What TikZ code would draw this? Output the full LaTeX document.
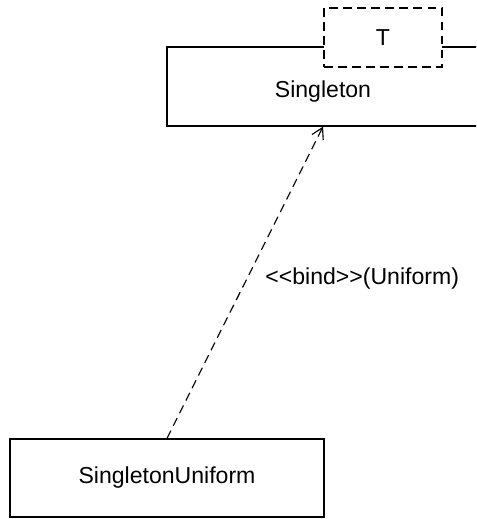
\documentclass[tikz,border=0pt]{standalone}
\usepackage{fontspec}
\setmainfont{Liberation Sans}
\usetikzlibrary{arrows.meta}

\begin{document}
\begin{tikzpicture}[
        x=0.025cm, y=-0.025cm,
        every node/.style={font=\fontsize{16.4}{20}\selectfont},
        cls/.style={
          draw=black, line width=0.85pt, fill=white,
          inner sep=0pt, align=center,
        },
        tparam/.style={
          draw=black, line width=0.85pt, fill=white,
          dash pattern=on 6.2pt off 3.8pt,
          minimum width=2.95cm, minimum height=1.475cm, inner sep=0pt,
        },
        bind/.style={-{Straight Barb[angle=60:9pt]}, draw=black, line width=0.8pt,
          dash pattern=on 6.2pt off 3.8pt},
        lbl/.style={anchor=west},
      ]
      \clip (0,0) rectangle (476,519);
      \node[cls, minimum width=7.8cm, minimum height=1.975cm, text depth=0pt]
        (singleton) at (323, 86.5) {\raisebox{-4pt}{Singleton}};
      \node[tparam] (t) at (383, 37.5) {T};
      \node[cls, minimum width=7.85cm, minimum height=1.95cm]
        (su) at (167, 478) {SingletonUniform};

      \draw[bind] (su.north) -- (singleton.south)
        node[midway, lbl, xshift=0.38cm, yshift=0.1cm] {{<}{<}bind{>}{>}(Uniform)};
    \end{tikzpicture}
\end{document}
